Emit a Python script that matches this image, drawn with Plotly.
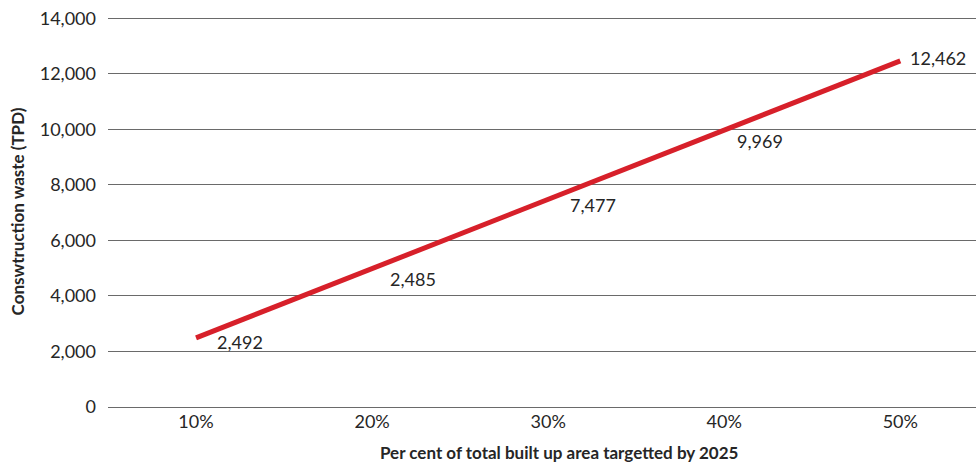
import plotly.graph_objects as go

categories = ["10%", "20%", "30%", "40%", "50%"]
waste_tpd = [2492, 4985, 7477, 9969, 12462]
value_labels = ["2,492", "2,485", "7,477", "9,969", "12,462"]
y_ticks = [0, 2000, 4000, 6000, 8000, 10000, 12000, 14000]
y_tick_labels = ["0", "2,000", "4,000", "6,000", "8,000", "10,000", "12,000", "14,000"]

label_xshift = [19, 16, 20, 11, 8]
label_yshift = [-4, -10, -6, -11, 3]

FONT = "Lato"
TXT = "#262626"

x_idx = list(range(len(categories)))

fig = go.Figure()
fig.add_trace(go.Scatter(
    x=x_idx, y=waste_tpd, mode="lines",
    line=dict(color="#d7202a", width=5),
    hoverinfo="skip", showlegend=False,
))

for i, (v, t) in enumerate(zip(waste_tpd, value_labels)):
    fig.add_annotation(
        x=x_idx[i], y=v, text=t, showarrow=False,
        xanchor="left", yanchor="middle",
        xshift=label_xshift[i], yshift=label_yshift[i],
        font=dict(family=FONT, size=18, color=TXT),
    )

fig.add_annotation(
    xref="paper", yref="paper", x=0.52, y=-0.085,
    text="<b>Per cent of total built up area targetted by 2025</b>",
    showarrow=False, xanchor="center", yanchor="top",
    font=dict(family=FONT, size=17, color=TXT),
)

fig.update_layout(
    width=976, height=464,
    margin=dict(l=108, r=0, t=16, b=57),
    plot_bgcolor="white", paper_bgcolor="white",
    font=dict(family=FONT, size=18, color=TXT),
)
fig.update_xaxes(
    range=[-0.5, 4.43],
    tickmode="array", tickvals=x_idx, ticktext=categories,
    showgrid=False, zeroline=False, showline=False,
    ticks="", ticklabelstandoff=2,
    tickfont=dict(family=FONT, size=18, color=TXT),
)
fig.update_yaxes(
    range=[0, 14080],
    tickmode="array", tickvals=y_ticks, ticktext=y_tick_labels,
    showgrid=True, gridcolor="#6a6a6a", gridwidth=1,
    zeroline=True, zerolinecolor="#6a6a6a", zerolinewidth=1,
    showline=False, ticks="",
    ticklabelstandoff=11,
    tickfont=dict(family=FONT, size=18, color=TXT),
    title=dict(text="<b>Conswtruction waste (TPD)</b>", standoff=10,
               font=dict(family=FONT, size=17, color=TXT)),
)

fig.write_html("out.html")
